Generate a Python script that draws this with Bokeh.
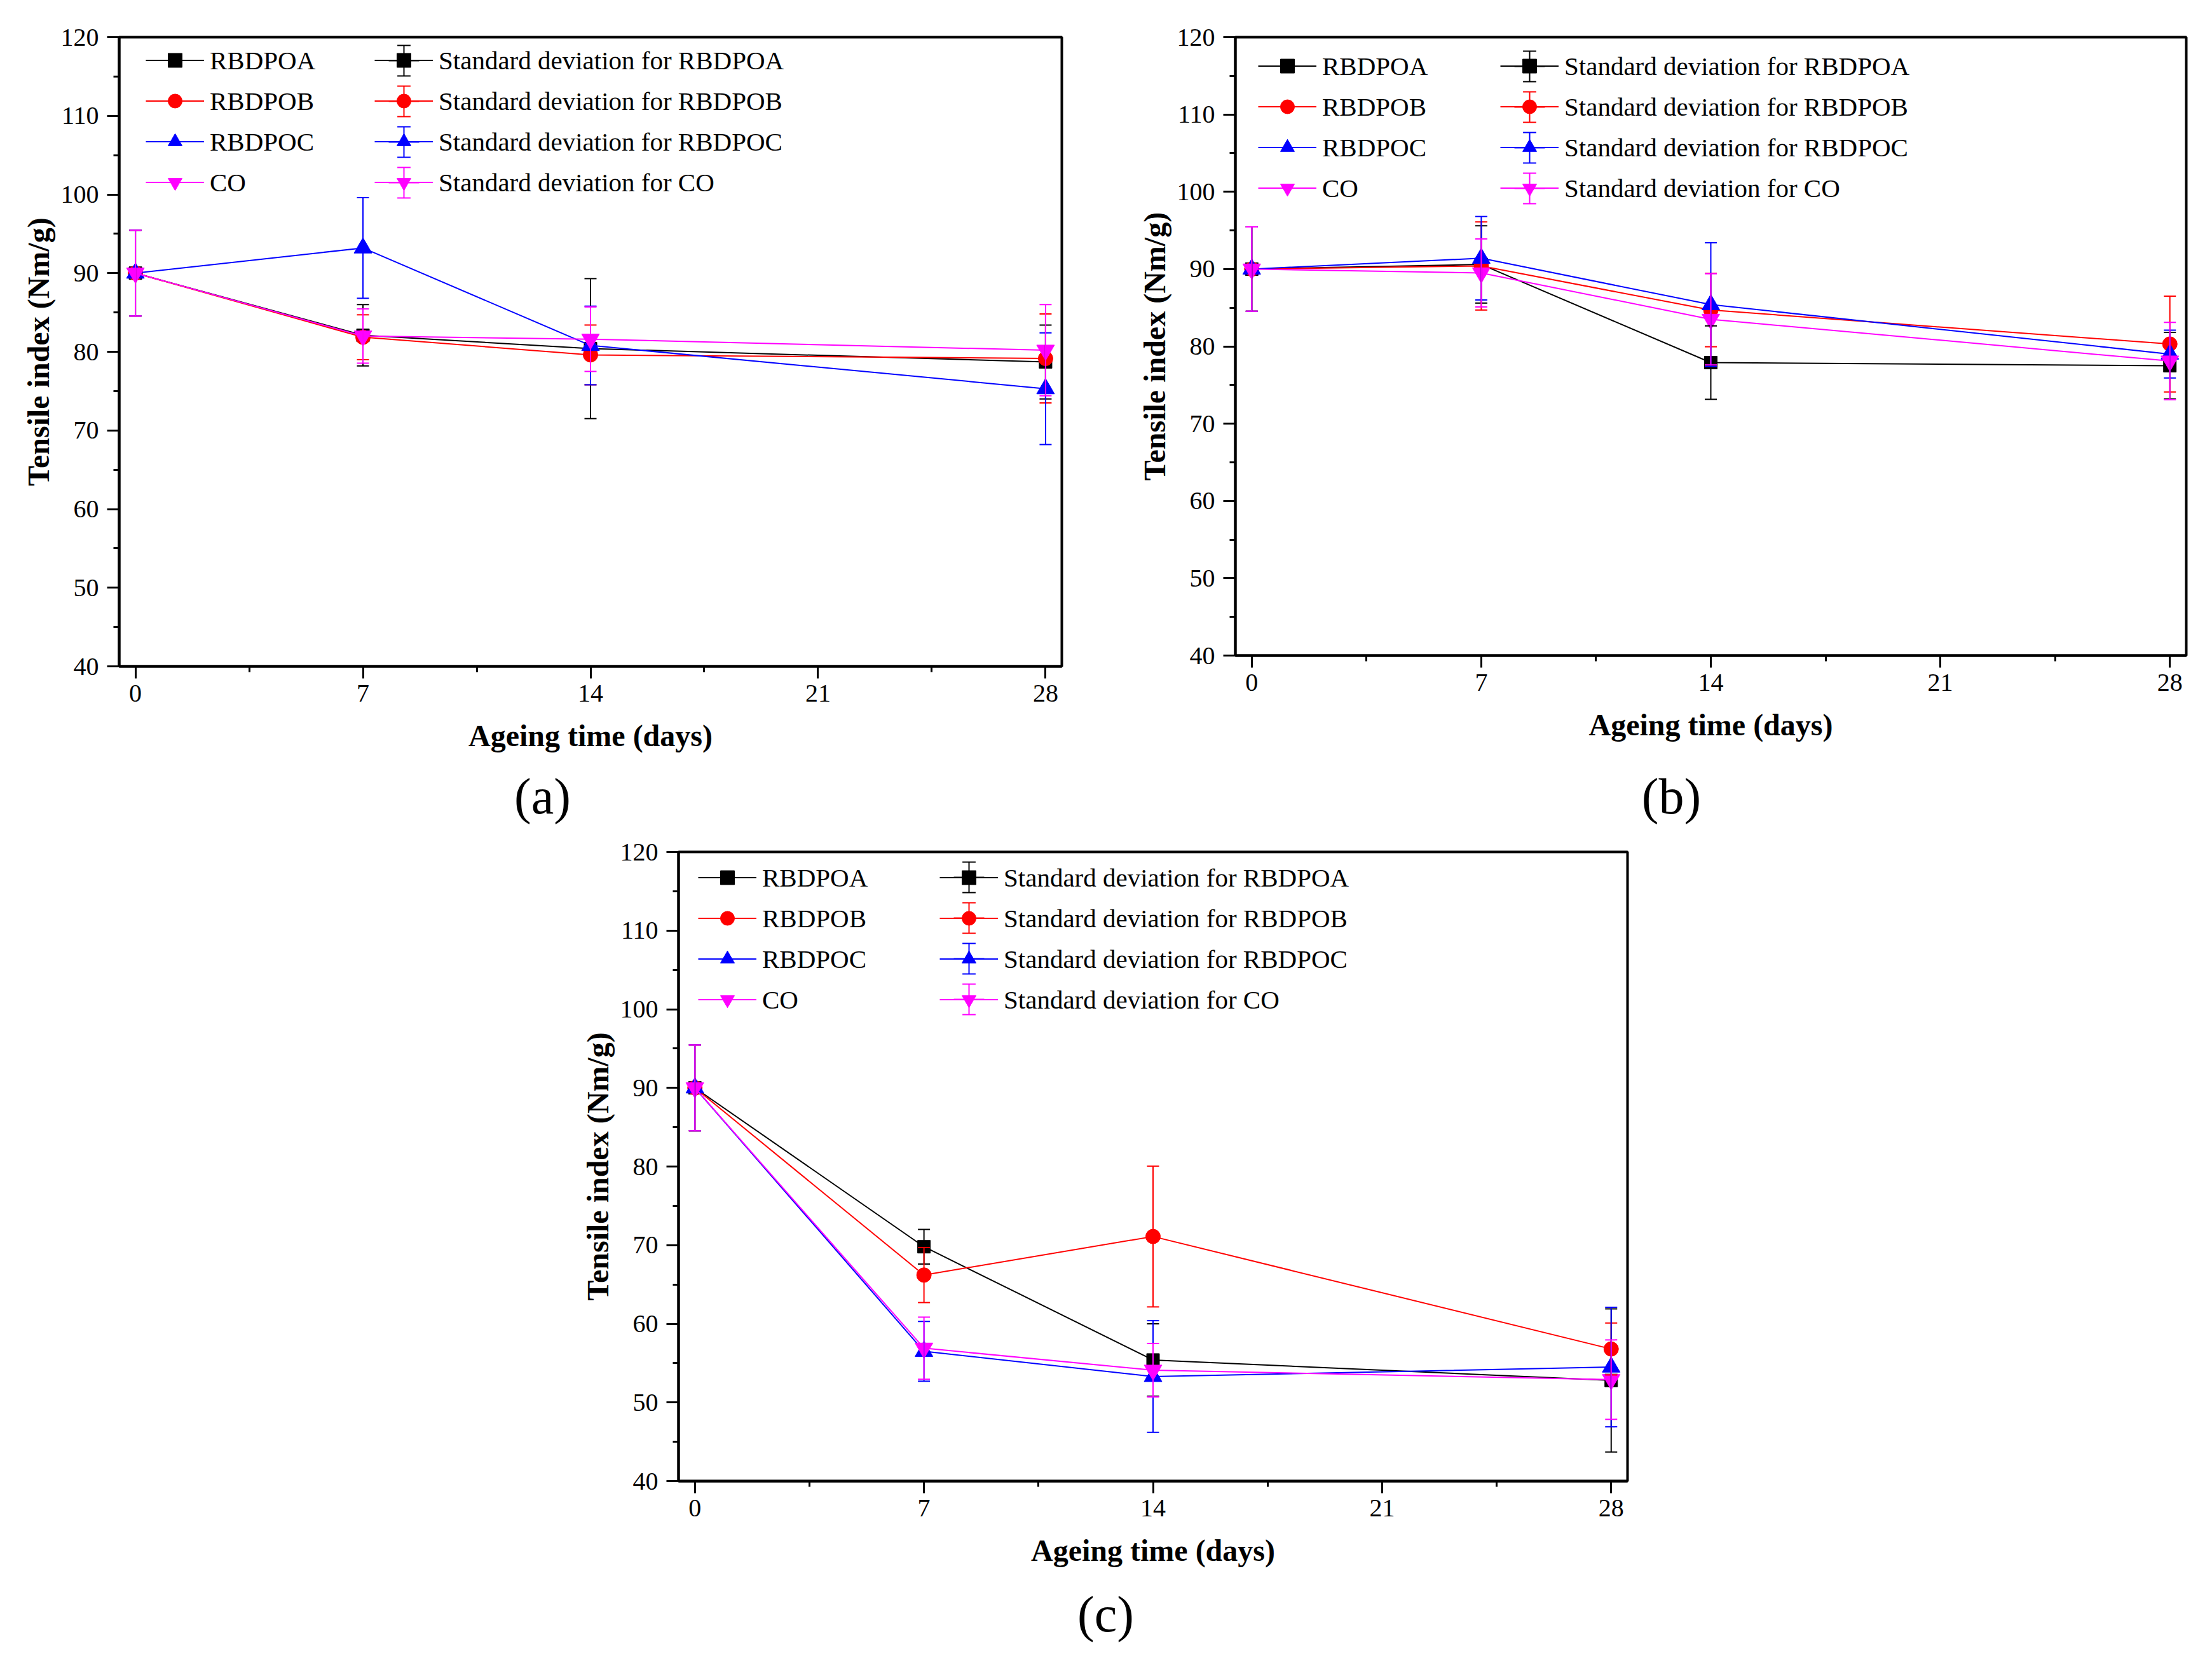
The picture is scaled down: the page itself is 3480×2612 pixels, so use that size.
from bokeh.plotting import figure
from bokeh.models import (ColumnDataSource, Whisker, TeeHead, Legend, LegendItem,
                          FixedTicker, Range1d, Label, Spacer)
from bokeh.layouts import column, row
from bokeh.embed import file_html
from bokeh.resources import INLINE

FONT = "Liberation Serif"

days = [0, 7, 14, 28]
x_ticks = [0, 7, 14, 21, 28]
x_minor = [3.5, 10.5, 17.5, 24.5]
y_ticks = [40, 50, 60, 70, 80, 90, 100, 110, 120]
y_minor = [45, 55, 65, 75, 85, 95, 105, 115]

series_names = ["RBDPOA", "RBDPOB", "RBDPOC", "CO"]
sd_names = ["Standard deviation for RBDPOA", "Standard deviation for RBDPOB",
            "Standard deviation for RBDPOC", "Standard deviation for CO"]

# panel (a)
a_rbdpoa = [90.0, 82.1, 80.4, 78.7]
a_rbdpoa_sd = [5.45, 3.9, 8.9, 4.7]
a_rbdpob = [90.0, 81.85, 79.6, 79.15]
a_rbdpob_sd = [5.45, 2.85, 3.8, 5.65]
a_rbdpoc = [90.0, 93.2, 80.8, 75.3]
a_rbdpoc_sd = [5.45, 6.4, 5.0, 7.1]
a_co = [90.0, 82.0, 81.6, 80.2]
a_co_sd = [5.45, 3.45, 4.1, 5.8]

# panel (b)
b_rbdpoa = [90.0, 90.6, 77.9, 77.5]
b_rbdpoa_sd = [5.45, 5.0, 4.75, 4.3]
b_rbdpob = [90.0, 90.4, 84.7, 80.3]
b_rbdpob_sd = [5.45, 5.7, 4.75, 6.2]
b_rbdpoc = [90.0, 91.4, 85.4, 79.0]
b_rbdpoc_sd = [5.45, 5.4, 8.0, 3.1]
b_co = [90.0, 89.5, 83.5, 78.1]
b_co_sd = [5.45, 4.4, 5.9, 5.0]

# panel (c)
c_rbdpoa = [90.0, 69.8, 55.4, 52.8]
c_rbdpoa_sd = [5.45, 2.2, 4.6, 9.1]
c_rbdpob = [90.0, 66.2, 71.1, 56.8]
c_rbdpob_sd = [5.45, 3.5, 8.95, 3.3]
c_rbdpoc = [90.0, 56.5, 53.3, 54.5]
c_rbdpoc_sd = [5.45, 3.8, 7.1, 7.6]
c_co = [90.0, 56.9, 54.1, 52.9]
c_co_sd = [5.45, 3.95, 3.4, 5.05]

colors = ["#000000", "#FF0000", "#0000FF", "#FF00FF"]
markers = ["square", "circle", "triangle", "inverted_triangle"]
marker_sizes = [20, 23, 28, 28]


def glyph_legend(renderer, cx, cy, box, fh):
    """A label-less legend whose glyph box of side `box` is centred at (cx, cy)
    measured from the frame's top-left corner."""
    return Legend(items=[LegendItem(label="", renderers=[renderer])],
                  location=(int(round(cx - box / 2)), int(round(fh - cy - box / 2))),
                  glyph_width=box, glyph_height=box, label_standoff=0,
                  label_width=0, padding=0, margin=0,
                  border_line_alpha=0, background_fill_alpha=0,
                  label_text_font_size="1px")


def make_panel(means, sds, fw, fh, bl, br, bt, bb, leg_x1, leg_y, leg_x2):
    p = figure(frame_width=fw, frame_height=fh, title=None,
               x_range=Range1d(-0.5, 28.5), y_range=Range1d(40, 120),
               output_backend="svg", toolbar_location=None,
               min_border_left=bl, min_border_right=br,
               min_border_top=bt, min_border_bottom=bb,
               x_axis_label="Ageing time (days)",
               y_axis_label="Tensile index (Nm/g)")
    p.xgrid.visible = False
    p.ygrid.visible = False
    p.outline_line_color = "black"
    p.outline_line_width = 4
    p.outline_line_alpha = 1.0
    p.background_fill_color = "white"
    p.border_fill_color = "white"

    p.xaxis.ticker = FixedTicker(ticks=x_ticks, minor_ticks=x_minor)
    p.yaxis.ticker = FixedTicker(ticks=y_ticks, minor_ticks=y_minor)
    for ax in (p.xaxis[0], p.yaxis[0]):
        ax.axis_line_width = 4
        ax.axis_line_color = "black"
        ax.major_tick_line_width = 3
        ax.minor_tick_line_width = 3
        ax.major_tick_line_color = "black"
        ax.minor_tick_line_color = "black"
        ax.major_tick_in = 0
        ax.major_tick_out = 19
        ax.minor_tick_in = 0
        ax.minor_tick_out = 9
        ax.major_label_text_font = FONT
        ax.major_label_text_font_size = "40px"
        ax.major_label_text_color = "black"
        ax.axis_label_text_font = FONT
        ax.axis_label_text_font_size = "48px"
        ax.axis_label_text_font_style = "bold"
        ax.axis_label_text_color = "black"
    p.xaxis.major_label_standoff = 10
    p.xaxis.axis_label_standoff = 24
    p.yaxis.major_label_standoff = 13
    p.yaxis.axis_label_standoff = 6

    items1, items2, bars, caps = [], [], [], []
    for name, sdn, m, s, c, mk, sz in zip(series_names, sd_names, means, sds,
                                           colors, markers, marker_sizes):
        upper = [v + e for v, e in zip(m, s)]
        lower = [v - e for v, e in zip(m, s)]
        src = ColumnDataSource(dict(x=days, y=m, upper=upper, lower=lower))
        lr = p.line("x", "y", source=src, line_color=c, line_width=2)
        w = Whisker(source=src, base="x", upper="upper", lower="lower",
                    line_color=c, line_width=2, level="glyph",
                    upper_head=TeeHead(size=19, line_color=c, line_width=2),
                    lower_head=TeeHead(size=19, line_color=c, line_width=2))
        p.add_layout(w)
        sr = p.scatter("x", "y", source=src, marker=mk, size=sz,
                       fill_color=c, line_color=c)
        # size 0 in the plot; they only draw the error-bar sample in the legend
        er = p.scatter("x", "y", source=src, marker="cross", size=0,
                       line_color=c, line_width=2)
        cr = p.scatter("x", "y", source=src, marker="dash", size=0,
                       line_color=c, line_width=2)
        items1.append(LegendItem(label=name, renderers=[lr, sr]))
        items2.append(LegendItem(label=sdn, renderers=[lr, sr]))
        bars.append(er)
        caps.append(cr)

    gw, gh, sp = 92, 55, 9
    lh = 4 * gh + 3 * sp
    ybot = int(round(fh - (leg_y - gh / 2) - lh))
    for items, lx in ((items1, leg_x1), (items2, leg_x2)):
        leg = Legend(items=items, location=(lx, ybot), orientation="vertical",
                     glyph_width=gw, glyph_height=gh, spacing=sp,
                     label_standoff=9, padding=0, margin=0,
                     border_line_alpha=0, background_fill_alpha=0,
                     label_text_font=FONT, label_text_font_size="41px",
                     label_text_color="black")
        p.add_layout(leg, "center")

    for i, (er, cr) in enumerate(zip(bars, caps)):
        cy = leg_y + (gh + sp) * i
        cx = leg_x2 + gw / 2
        p.add_layout(glyph_legend(er, cx, cy, 120, fh), "center")
        for dy in (-24, 24):
            p.add_layout(glyph_legend(cr, cx, cy + dy, 52, fh), "center")
    return p


def make_caption(text, w, h, cx, cy_from_top):
    q = figure(frame_width=w, frame_height=h, title=None,
               x_range=Range1d(0, w), y_range=Range1d(0, h),
               output_backend="svg", toolbar_location=None,
               x_axis_location=None, y_axis_location=None,
               min_border=0)
    q.xgrid.visible = False
    q.ygrid.visible = False
    q.outline_line_color = None
    q.background_fill_color = "white"
    q.border_fill_color = "white"
    q.add_layout(Label(x=cx, y=h - cy_from_top, text=text,
                       text_align="center", text_baseline="middle",
                       text_font=FONT, text_font_size="80px",
                       text_color="black"))
    return q


fa = make_panel([a_rbdpoa, a_rbdpob, a_rbdpoc, a_co],
                [a_rbdpoa_sd, a_rbdpob_sd, a_rbdpoc_sd, a_co_sd],
                1483, 990, 187, 62, 52, 165, 42, 37, 402)
fb = make_panel([b_rbdpoa, b_rbdpob, b_rbdpoc, b_co],
                [b_rbdpoa_sd, b_rbdpob_sd, b_rbdpoc_sd, b_co_sd],
                1496, 973, 211, 25, 58, 176, 36, 46, 417)
fc = make_panel([c_rbdpoa, c_rbdpob, c_rbdpoc, c_co],
                [c_rbdpoa_sd, c_rbdpob_sd, c_rbdpoc_sd, c_co_sd],
                1493, 990, 187, 62, 28, 165, 31, 40, 411)

cap_a = make_caption("(a)", 1732, 105, 853, 45)
cap_b = make_caption("(b)", 1732, 105, 897, 45)
cap_c = make_caption("(c)", 1742, 101, 859, 44)

layout = column(row(fa, fb), row(cap_a, cap_b),
                row(Spacer(width=880, height=10), fc),
                row(Spacer(width=880, height=10), cap_c))
open("out.html", "w").write(file_html(layout, INLINE))
